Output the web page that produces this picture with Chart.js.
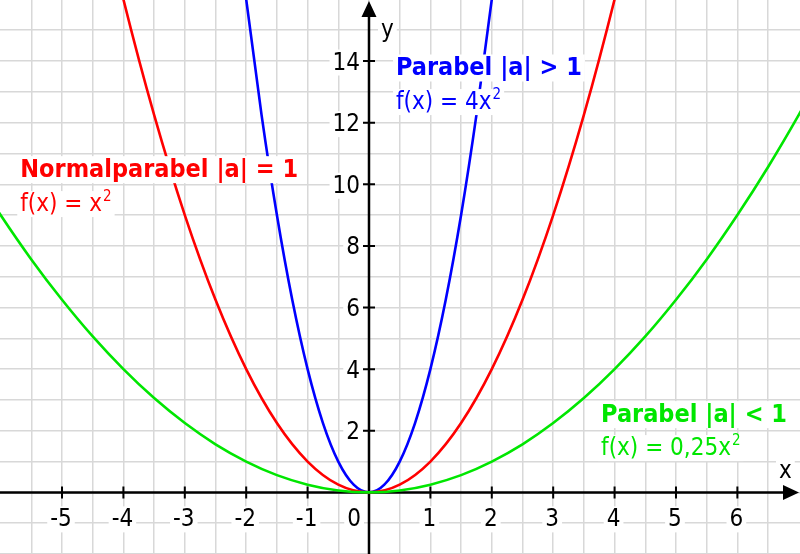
<!DOCTYPE html>
<html>
<head>
<meta charset="utf-8">
<script src="https://cdn.jsdelivr.net/npm/chart.js@4/dist/chart.umd.min.js"></script>
<style>
  html, body { margin: 0; padding: 0; background: #fff; }
  #wrap { width: 800px; height: 554px; }
</style>
</head>
<body>
<div id="wrap"><canvas id="parabel-chart" width="800" height="554"></canvas></div>
<script>
// Werte
const redX = [-4.5, -4, -3.5, -3, -2.5, -2, -1.5, -1, -0.5, 0, 0.5, 1, 1.5, 2, 2.5, 3, 3.5, 4, 4.5];
const redY = [20.25, 16, 12.25, 9, 6.25, 4, 2.25, 1, 0.25, 0, 0.25, 1, 2.25, 4, 6.25, 9, 12.25, 16, 20.25];

const blueX = [-2.25, -2, -1.75, -1.5, -1.25, -1, -0.75, -0.5, -0.25, 0, 0.25, 0.5, 0.75, 1, 1.25, 1.5, 1.75, 2, 2.25];
const blueY = [20.25, 16, 12.25, 9, 6.25, 4, 2.25, 1, 0.25, 0, 0.25, 1, 2.25, 4, 6.25, 9, 12.25, 16, 20.25];

const greenX = [-6.5, -6, -5.5, -5, -4.5, -4, -3.5, -3, -2.5, -2, -1.5, -1, -0.5, 0, 0.5, 1, 1.5, 2, 2.5, 3, 3.5, 4, 4.5, 5, 5.5, 6, 6.5, 7, 7.5];
const greenY = [10.56, 9, 7.56, 6.25, 5.06, 4, 3.06, 2.25, 1.56, 1, 0.56, 0.25, 0.06, 0, 0.06, 0.25, 0.56, 1, 1.56, 2.25, 3.06, 4, 5.06, 6.25, 7.56, 9, 10.56, 12.25, 14.06];

const xTickLabels = [-5, -4, -3, -2, -1, 0, 1, 2, 3, 4, 5, 6];
const yTickLabels = [2, 4, 6, 8, 10, 12, 14];

const RED = '#ff0000';
const BLUE = '#0000ff';
const GREEN = '#00e600';

const FONT_FAMILY = '"DejaVu Sans Condensed", "DejaVu Sans", sans-serif';
const FONT_BOLD = 'bold 25px ' + FONT_FAMILY;
const FONT_NORMAL = '24px ' + FONT_FAMILY;
const FONT_SUP = '15px ' + FONT_FAMILY;
const FONT_TICK = '24px ' + FONT_FAMILY;

document.addEventListener('DOMContentLoaded', function () {
    const ctx = document.getElementById('parabel-chart').getContext('2d');

    function toPoints(xs, ys) {
        return xs.map((x, i) => ({ x: x, y: ys[i] }));
    }

    // nur Gitterlinien auf vollen Schritten behalten
    function keepSteps(step) {
        return function (scale) {
            scale.ticks = scale.ticks.filter(t => Math.abs(t.value / step - Math.round(t.value / step)) < 1e-6);
        };
    }

    // Text mit weissem Hintergrund, optional mit Hochzahl
    function drawLabel(c, text, sup, x, y, font, color, align) {
        c.font = font;
        const m = c.measureText(text);
        let w = m.width;
        let supW = 0;
        if (sup) {
            c.font = FONT_SUP;
            supW = c.measureText(sup).width + 1;
            c.font = font;
        }
        const total = w + supW;
        let left = x;
        if (align === 'right') left = x - total;
        if (align === 'center') left = x - total / 2;
        const asc = m.fontBoundingBoxAscent || 20;
        const desc = m.fontBoundingBoxDescent || 6;
        c.fillStyle = '#fff';
        c.fillRect(left - 3, y - asc + 2, total + 6, asc + desc - 2);
        c.fillStyle = color;
        c.textAlign = 'left';
        c.textBaseline = 'alphabetic';
        c.fillText(text, left, y);
        if (sup) {
            c.font = FONT_SUP;
            c.fillText(sup, left + w + 1, y - 10);
        }
    }

    const axisPlugin = {
        id: 'achsen',
        beforeDatasetsDraw(chart) {
            const c = chart.ctx;
            const xs = chart.scales.x;
            const ys = chart.scales.y;
            const area = chart.chartArea;
            const x0 = xs.getPixelForValue(0);
            const y0 = ys.getPixelForValue(0);

            c.save();
            c.strokeStyle = '#000';
            c.fillStyle = '#000';
            c.lineWidth = 2.5;
            c.beginPath();
            c.moveTo(area.left, y0);
            c.lineTo(area.right - 10, y0);
            c.moveTo(x0, area.bottom);
            c.lineTo(x0, area.top + 10);
            c.stroke();

            // Pfeilspitzen
            c.beginPath();
            c.moveTo(area.right - 1, y0);
            c.lineTo(area.right - 17, y0 - 7.5);
            c.lineTo(area.right - 17, y0 + 7.5);
            c.closePath();
            c.moveTo(x0, area.top + 1);
            c.lineTo(x0 - 7.5, area.top + 17);
            c.lineTo(x0 + 7.5, area.top + 17);
            c.closePath();
            c.fill();

            // Teilstriche
            c.lineWidth = 2;
            c.beginPath();
            xTickLabels.forEach(v => {
                if (v === 0) return;
                const px = xs.getPixelForValue(v);
                c.moveTo(px, y0 - 6);
                c.lineTo(px, y0 + 6);
            });
            yTickLabels.forEach(v => {
                const py = ys.getPixelForValue(v);
                c.moveTo(x0 - 6, py);
                c.lineTo(x0 + 6, py);
            });
            c.stroke();

            // Beschriftung der Achsen
            xTickLabels.forEach(v => {
                if (v === 0) {
                    drawLabel(c, '0', null, x0 - 8, y0 + 34, FONT_TICK, '#000', 'right');
                } else {
                    drawLabel(c, String(v), null, xs.getPixelForValue(v) - 1, y0 + 34, FONT_TICK, '#000', 'center');
                }
            });
            yTickLabels.forEach(v => {
                drawLabel(c, String(v), null, x0 - 9, ys.getPixelForValue(v) + 8.5, FONT_TICK, '#000', 'right');
            });
            drawLabel(c, 'x', null, area.right - 21, y0 - 14, FONT_NORMAL, '#000', 'left');
            drawLabel(c, 'y', null, x0 + 12, area.top + 37, FONT_NORMAL, '#000', 'left');
            c.restore();
        },
        afterDatasetsDraw(chart) {
            const c = chart.ctx;
            const xs = chart.scales.x;
            const ys = chart.scales.y;
            c.save();
            drawLabel(c, 'Parabel |a| > 1', null, xs.getPixelForValue(0.44), ys.getPixelForValue(13.53), FONT_BOLD, BLUE, 'left');
            drawLabel(c, 'f(x) = 4x', '2', xs.getPixelForValue(0.44), ys.getPixelForValue(12.44), FONT_NORMAL, BLUE, 'left');
            drawLabel(c, 'Normalparabel |a| = 1', null, xs.getPixelForValue(-5.68), ys.getPixelForValue(10.23), FONT_BOLD, RED, 'left');
            drawLabel(c, 'f(x) = x', '2', xs.getPixelForValue(-5.68), ys.getPixelForValue(9.13), FONT_NORMAL, RED, 'left');
            drawLabel(c, 'Parabel |a| < 1', null, xs.getPixelForValue(3.78), ys.getPixelForValue(2.28), FONT_BOLD, GREEN, 'left');
            drawLabel(c, 'f(x) = 0,25x', '2', xs.getPixelForValue(3.78), ys.getPixelForValue(1.21), FONT_NORMAL, GREEN, 'left');
            c.restore();
        }
    };

    const lineStyle = {
        pointRadius: 0,
        borderWidth: 2.6,
        fill: false,
        cubicInterpolationMode: 'monotone'
    };

    new Chart(ctx, {
        type: 'line',
        data: {
            datasets: [
                Object.assign({ label: 'f(x) = 0,25x²', data: toPoints(greenX, greenY), borderColor: GREEN }, lineStyle),
                Object.assign({ label: 'f(x) = x²', data: toPoints(redX, redY), borderColor: RED }, lineStyle),
                Object.assign({ label: 'f(x) = 4x²', data: toPoints(blueX, blueY), borderColor: BLUE }, lineStyle)
            ]
        },
        options: {
            responsive: false,
            animation: false,
            layout: { padding: 0 },
            plugins: {
                legend: { display: false },
                tooltip: { enabled: false }
            },
            scales: {
                x: {
                    type: 'linear',
                    min: -6.01,
                    max: 7.02,
                    ticks: { display: false, stepSize: 0.5 },
                    grid: { color: '#d8d8d8', lineWidth: 1.5, drawTicks: false },
                    border: { display: false },
                    afterBuildTicks: keepSteps(0.5)
                },
                y: {
                    type: 'linear',
                    min: -2.0,
                    max: 15.98,
                    ticks: { display: false, stepSize: 1 },
                    grid: { color: '#d8d8d8', lineWidth: 1.5, drawTicks: false },
                    border: { display: false },
                    afterBuildTicks: keepSteps(1)
                }
            }
        },
        plugins: [axisPlugin]
    });
});
</script>
</body>
</html>
